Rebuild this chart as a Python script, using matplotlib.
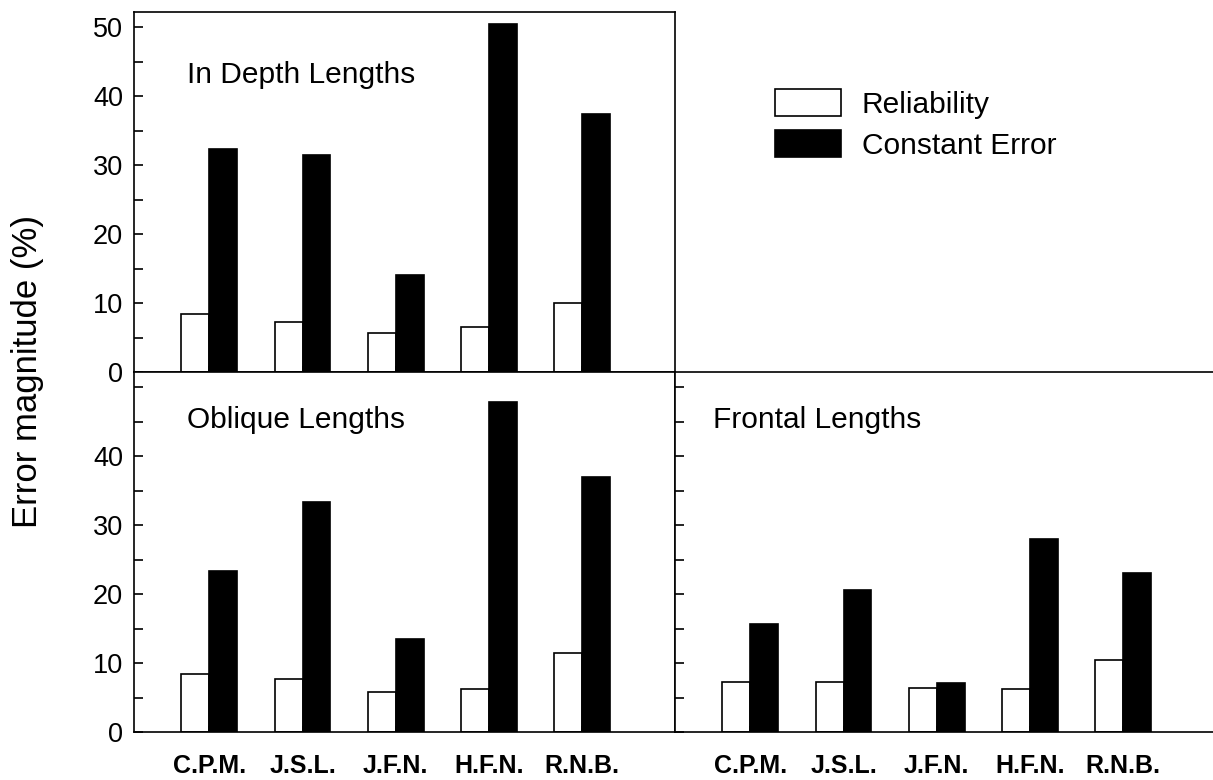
import numpy as np
import matplotlib
matplotlib.use('Agg')
import matplotlib.pyplot as plt
from matplotlib.ticker import MultipleLocator
from matplotlib.patches import Patch

plt.rcParams['font.family'] = ['Liberation Sans', 'DejaVu Sans']

subjects = ['C.P.M.', 'J.S.L.', 'J.F.N.', 'H.F.N.', 'R.N.B.']
depth_rel = [8.4, 7.2, 5.7, 6.5, 10.0]
depth_ce = [32.4, 31.5, 14.1, 50.5, 37.4]
oblique_rel = [8.4, 7.7, 5.8, 6.3, 11.4]
oblique_ce = [23.4, 33.4, 13.5, 47.8, 37.0]
frontal_rel = [7.3, 7.2, 6.4, 6.3, 10.5]
frontal_ce = [15.7, 20.6, 7.1, 28.0, 23.0]

W, H = 1213, 780
fig = plt.figure(figsize=(W / 100, H / 100), dpi=100)

ax_top = fig.add_axes([134 / W, (H - 372) / H, 541 / W, 360 / H])
ax_bl = fig.add_axes([134 / W, (H - 732) / H, 541 / W, 360 / H])
ax_br = fig.add_axes([675 / W, (H - 732) / H, 541 / W, 360 / H])

x = np.arange(1, len(subjects) + 1)
bw = 0.3


def draw(ax, rel, ce, title, tx, ty):
    ax.bar(x - bw / 2, rel, bw, color='white', edgecolor='black', linewidth=1.2)
    ax.bar(x + bw / 2, ce, bw, color='black', edgecolor='black', linewidth=1.2)
    ax.set_xlim(0.19, 6.0)
    ax.set_ylim(0, 52.2)
    ax.yaxis.set_major_locator(MultipleLocator(10))
    ax.yaxis.set_minor_locator(MultipleLocator(5))
    ax.tick_params(axis='y', which='both', direction='in', length=6.5, width=1.2,
                   labelsize=19.5, pad=8)
    ax.tick_params(axis='x', direction='in', length=4, width=1.2)
    ax.set_xticks(x)
    for s in ax.spines.values():
        s.set_linewidth(1.2)
    ax.text(tx, ty, title, transform=ax.transAxes, fontsize=21.5)


# top left: in depth
draw(ax_top, depth_rel, depth_ce, 'In Depth Lengths', 0.098, (372 - 83) / 360)
ax_top.set_xticklabels([])

# bottom left: oblique
draw(ax_bl, oblique_rel, oblique_ce, 'Oblique Lengths', 0.098, (732 - 428) / 360)
ax_bl.set_yticks([0, 10, 20, 30, 40, 50])
ax_bl.set_yticklabels(['0', '10', '20', '30', '40', ''])

# bottom right: frontal
draw(ax_br, frontal_rel, frontal_ce, 'Frontal Lengths', 0.07, (732 - 428) / 360)
ax_br.set_yticklabels([])
ax_br.spines['right'].set_visible(False)

for ax in (ax_bl, ax_br):
    ax.set_xticklabels(subjects, fontsize=18, fontweight='bold')
    ax.tick_params(axis='x', pad=15.5)

fig.text(28 / W, (H - 372) / H, 'Error magnitude (%)', rotation=90,
         ha='center', va='center', fontsize=25)

handles = [Patch(facecolor='white', edgecolor='black', linewidth=1.2),
           Patch(facecolor='black', edgecolor='black', linewidth=1.2)]
fig.legend(handles, ['Reliability', 'Constant Error'], loc='upper left',
           bbox_to_anchor=(775 / W, 1 - 89 / H), frameon=False, fontsize=21.5,
           handlelength=2.2, handleheight=1.0, handletextpad=0.7,
           labelspacing=0.38, borderpad=0, borderaxespad=0)

fig.savefig('out.png', dpi=100)
